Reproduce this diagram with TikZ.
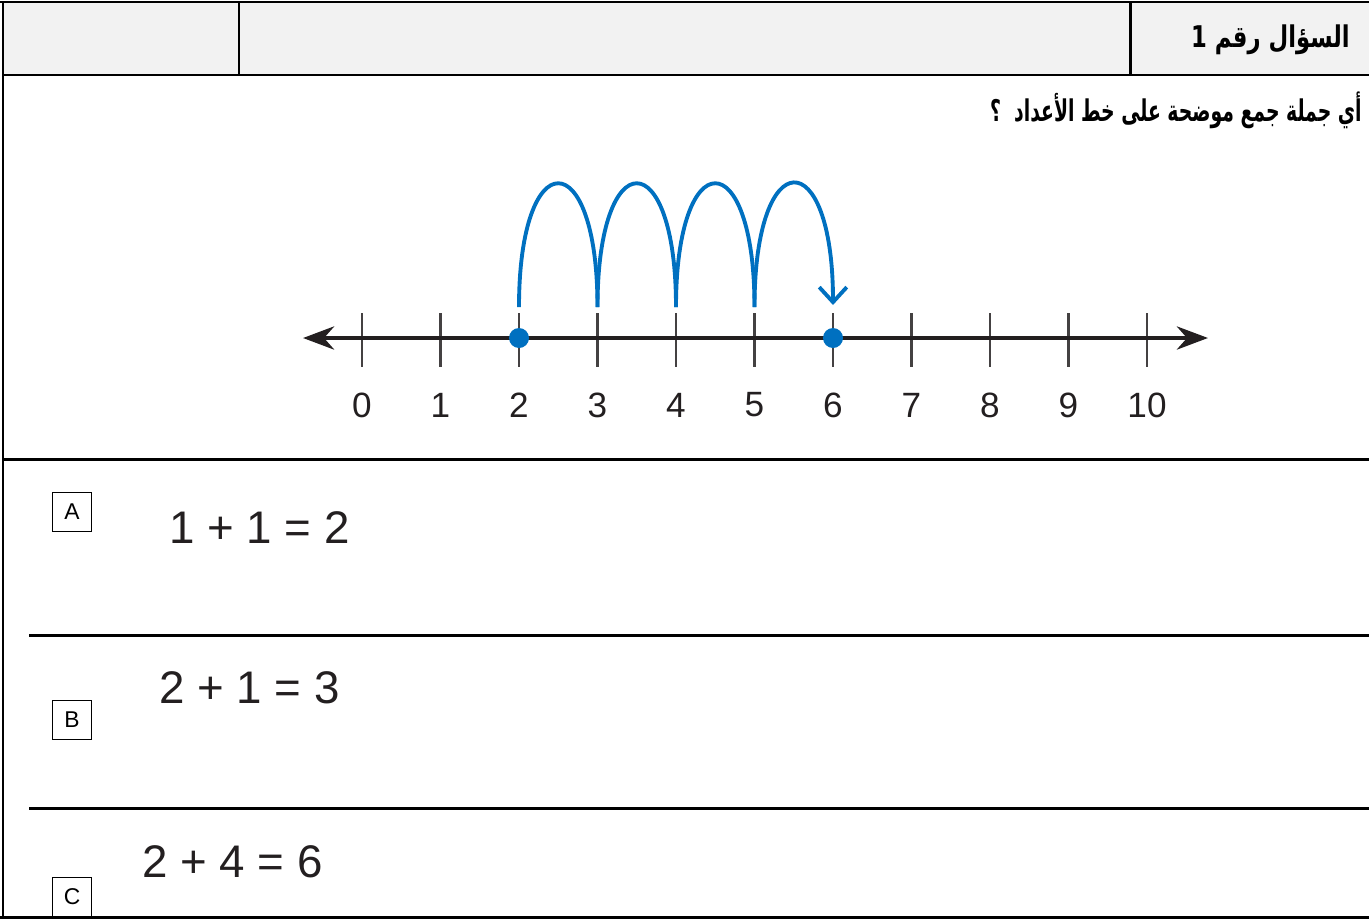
\documentclass[tikz,border=0pt]{standalone}
\usepackage{fontspec}
\setmainfont{Liberation Sans}
\newfontfamily\arabicfont[Script=Arabic]{DejaVu Sans}
\TeXXeTstate=1
\usetikzlibrary{arrows.meta,positioning,calc}
\definecolor{JUMP-BLUE}{RGB}{0, 112, 192}
\definecolor{LINE-INK}{RGB}{35, 31, 32}
\definecolor{HEAD-GRAY}{RGB}{242, 242, 242}

\begin{document}
\begin{tikzpicture}[x=0.02cm, y=-0.02cm,
    rule/.style={line width=1.7pt, black},
    tick/.style={line width=1.3pt, LINE-INK!85},
    jump/.style={line width=2.2pt, JUMP-BLUE},
    numlabel/.style={font=\fontsize{20}{20}\selectfont, LINE-INK},
    optbox/.style={draw, line width=0.8pt, minimum size=0.78cm, inner sep=0pt, font=\fontsize{13}{13}\selectfont},
    eqn/.style={anchor=west, font=\fontsize{26}{26}\selectfont, LINE-INK},
    artext/.style={anchor=east, inner sep=0pt, font=\arabicfont\bfseries\fontsize{17}{17}\selectfont}]
  \useasboundingbox (0,0) rectangle (1369,920);

  % Header row
  \fill[HEAD-GRAY] (3,2) rectangle (1369,75);
  \draw[rule] (0,2) -- (1369,2);
  \draw[rule] (3,2) -- (3,918);
  \draw[rule] (3,75) -- (1369,75);
  \draw[rule] (239,2) -- (239,75);
  \draw[rule] (1130,2) -- (1130,75);
  \node[artext] (title) at (1350,40)
    {\scalebox{0.76}[1]{\beginR السؤال رقم 1\endR}};

  % Question
  \node[artext] (question) at (1362,110)
    {\scalebox{0.63}[1]{\beginR أي جملة جمع موضحة على خط الأعداد\ \ ؟\endR}};

  % Number line
  \foreach \i in {0,...,10} {
    \coordinate (t\i) at ({362+78.5*\i},338);
    \draw[tick] ($(t\i)+(0,-25)$) -- ($(t\i)+(0,29)$);
    \node[numlabel] (n\i) at ($(t\i)+(0,67)$) {\i};
  }
  \coordinate (lend) at (303,338);
  \coordinate (rend) at (1208,338);
  \draw[line width=2.8pt, LINE-INK, {Stealth[length=0.62cm, width=0.46cm, inset=0.2cm]}-{Stealth[length=0.62cm, width=0.46cm, inset=0.2cm]}]
    (lend) -- (rend);

  % Jumps from 2 to 6
  \foreach \i [evaluate=\i as \j using int(\i+1)] in {2,3,4} {
    \draw[jump] ($(t\i)+(0,-31)$) .. controls ($(t\i)+(0,-196)$) and ($(t\j)+(0,-196)$) .. ($(t\j)+(0,-31)$);
  }
  \draw[jump, -{Straight Barb[length=0.3cm, width=0.55cm]}] ($(t5)+(0,-31)$) .. controls ($(t5)+(0,-196)$) and ($(t6)+(0,-196)$) .. ($(t6)+(0,-33)$);
  \fill[JUMP-BLUE] (t2) circle (0.2cm);
  \fill[JUMP-BLUE] (t6) circle (0.2cm);

  % Answer rows
  \draw[rule] (3,459) -- (1369,459);
  \draw[rule] (29,635) -- (1369,635);
  \draw[rule] (29,808) -- (1369,808);
  \draw[rule] (0,917) -- (1369,917);

  \node[optbox] (optA) at (72,512) {A};
  \node[eqn] (eqA) at (163,528) {1 + 1 = 2};
  \node[optbox] (optB) at (72,720) {B};
  \node[eqn] (eqB) at (153,688) {2 + 1 = 3};
  \node[optbox] (optC) at (72,897) {C};
  \node[eqn] (eqC) at (136,862) {2 + 4 = 6};
\end{tikzpicture}
\end{document}
